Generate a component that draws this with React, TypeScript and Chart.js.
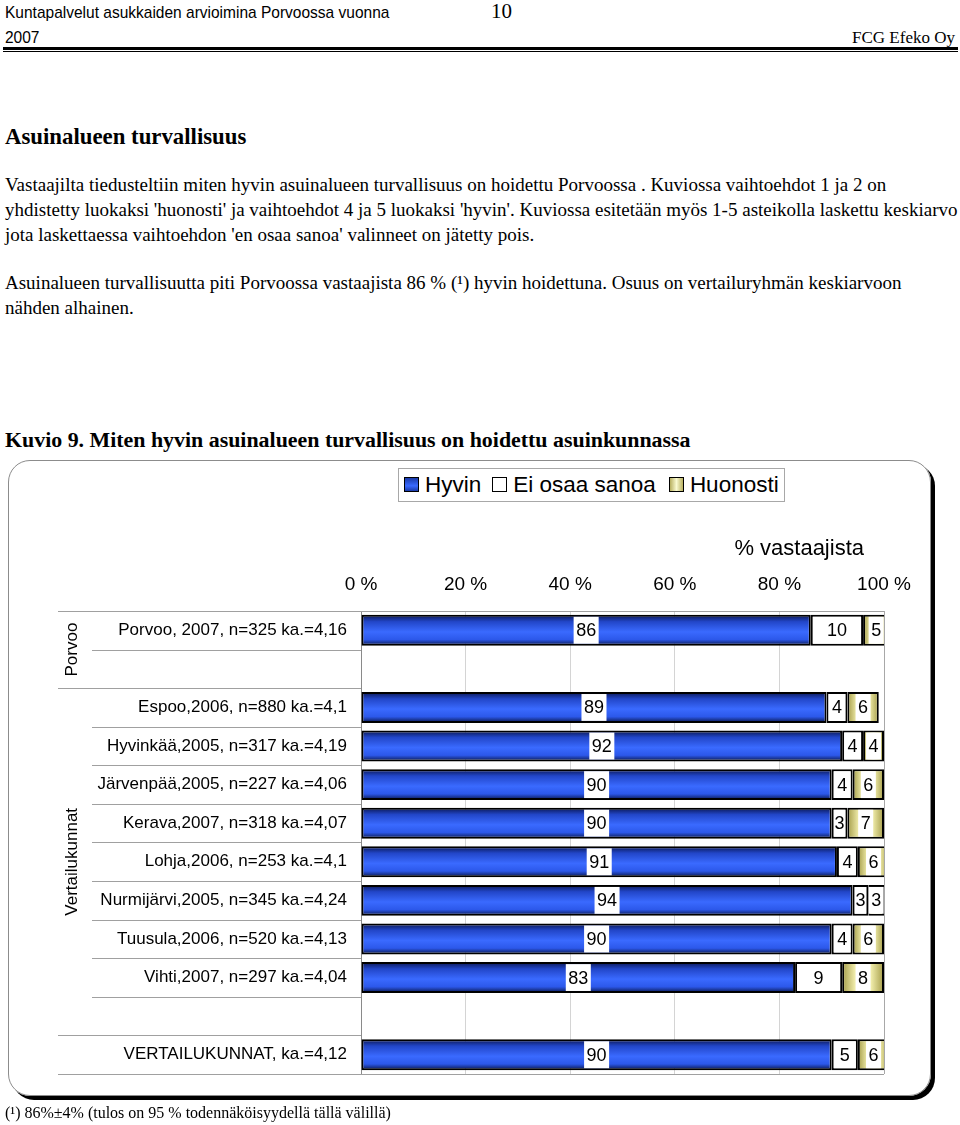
import React, { useEffect, useRef } from "react";
import { Chart, registerables } from "chart.js";

Chart.register(...registerables);

// ---- data ----
const categories = [
  "Porvoo, 2007, n=325 ka.=4,16",
  "",
  "Espoo,2006, n=880 ka.=4,1",
  "Hyvinkää,2005, n=317 ka.=4,19",
  "Järvenpää,2005, n=227 ka.=4,06",
  "Kerava,2007, n=318 ka.=4,07",
  "Lohja,2006, n=253 ka.=4,1",
  "Nurmijärvi,2005, n=345 ka.=4,24",
  "Tuusula,2006, n=520 ka.=4,13",
  "Vihti,2007, n=297 ka.=4,04",
  "",
  "VERTAILUKUNNAT, ka.=4,12",
];
const hyvin = [86, null, 89, 92, 90, 90, 91, 94, 90, 83, null, 90];
const eiOsaa = [10, null, 4, 4, 4, 3, 4, 3, 4, 9, null, 5];
const huonosti = [5, null, 6, 4, 6, 7, 6, 3, 6, 8, null, 6];
const seriesNames = ["Hyvin", "Ei osaa sanoa", "Huonosti"];
const xTickValues = [0, 20, 40, 60, 80, 100];
const groupLabels = ["Porvoo", "Vertailukunnat"];
const groupFrom = [0, 2];
const groupTo = [1, 10];
const axisTitle = "% vastaajista";

const SANS = "'Liberation Sans', Arial, Helvetica, sans-serif";
const SERIF = "'Liberation Serif', 'Times New Roman', serif";
const BAR_PCT = 0.8;

function blueFill(c: any) {
  const chart = c.chart;
  const ys = chart.scales && chart.scales.y;
  if (!ys || !chart.chartArea || c.type !== "data") return "#3366ff";
  const step = ys.getPixelForValue(1) - ys.getPixelForValue(0);
  const yc = ys.getPixelForValue(c.dataIndex);
  const h = (step * BAR_PCT) / 2;
  const g = chart.ctx.createLinearGradient(0, yc - h, 0, yc + h);
  g.addColorStop(0, "#0a1650");
  g.addColorStop(0.22, "#2246c8");
  g.addColorStop(0.55, "#3a6aff");
  g.addColorStop(0.8, "#2c58ea");
  g.addColorStop(1, "#081444");
  return g;
}

function yellowFill(c: any) {
  const chart = c.chart;
  const xs = chart.scales && chart.scales.x;
  if (!xs || !chart.chartArea || c.type !== "data") return "#ecea9c";
  const i = c.dataIndex;
  const s = (hyvin[i] || 0) + (eiOsaa[i] || 0);
  const e = s + (huonosti[i] || 0);
  const x0 = xs.getPixelForValue(s);
  const x1 = xs.getPixelForValue(e);
  const g = chart.ctx.createLinearGradient(x0, 0, x1, 0);
  g.addColorStop(0, "#a49c48");
  g.addColorStop(0.3, "#eeeaa8");
  g.addColorStop(0.5, "#fdfde6");
  g.addColorStop(0.7, "#eeeaa8");
  g.addColorStop(1, "#a49c48");
  return g;
}

const sepPlugin = {
  id: "separators",
  afterDraw(chart: any) {
    const { ctx, chartArea } = chart;
    const ys = chart.scales.y;
    const step = ys.getPixelForValue(1) - ys.getPixelForValue(0);
    const n = categories.length;
    ctx.save();
    ctx.strokeStyle = "#a0a0a0";
    ctx.lineWidth = 1;
    for (let i = 0; i <= n; i++) {
      const yy = Math.round(ys.getPixelForValue(i) - step / 2) + 0.5;
      const edge =
        i === 0 || i === n || groupFrom.includes(i) || groupTo.some((t) => t + 1 === i);
      const x0 = edge ? 58 : 92;
      const x1 = i === 0 || i === n ? chartArea.right : chartArea.left;
      ctx.beginPath();
      ctx.moveTo(x0, yy);
      ctx.lineTo(x1, yy);
      ctx.stroke();
    }
    ctx.fillStyle = "#000";
    ctx.font = "17px " + SANS;
    ctx.textAlign = "center";
    ctx.textBaseline = "middle";
    groupLabels.forEach((lbl, gi) => {
      const yTop = ys.getPixelForValue(groupFrom[gi]) - step / 2;
      const yBot = ys.getPixelForValue(groupTo[gi]) + step / 2;
      ctx.save();
      ctx.translate(72, (yTop + yBot) / 2);
      ctx.rotate(-Math.PI / 2);
      ctx.fillText(lbl, 0, 0);
      ctx.restore();
    });
    ctx.restore();
  },
};

const labelPlugin = {
  id: "barLabels",
  afterDatasetsDraw(chart: any) {
    const { ctx } = chart;
    ctx.save();
    ctx.font = "18px " + SANS;
    ctx.textAlign = "center";
    ctx.textBaseline = "middle";
    chart.data.datasets.forEach((ds: any, di: number) => {
      const meta = chart.getDatasetMeta(di);
      meta.data.forEach((el: any, i: number) => {
        const v = ds.data[i];
        if (v == null) return;
        const { x, y, base, height } = el.getProps(["x", "y", "base", "height"], true);
        const cx = (x + base) / 2;
        const txt = String(v);
        const w = ctx.measureText(txt).width;
        if (di !== 1) {
          ctx.fillStyle = "#fff";
          ctx.fillRect(cx - w / 2 - 2.5, y - height / 2 + 2, w + 5, height - 4);
        }
        ctx.fillStyle = "#000";
        ctx.fillText(txt, cx, y + 1);
      });
    });
    ctx.restore();
  },
};

function ChartBox() {
  const ref = useRef<HTMLCanvasElement | null>(null);
  useEffect(() => {
    if (!ref.current) return;
    const common = {
      borderColor: "#000",
      borderWidth: 2,
      borderSkipped: false,
      barPercentage: BAR_PCT,
      categoryPercentage: 1,
      clip: { left: 5, top: 5, right: 0, bottom: 5 },
    };
    const chart = new Chart(ref.current, {
      type: "bar",
      data: {
        labels: categories,
        datasets: [
          { label: seriesNames[0], data: hyvin, backgroundColor: blueFill, ...common },
          { label: seriesNames[1], data: eiOsaa, backgroundColor: "#ffffff", ...common },
          { label: seriesNames[2], data: huonosti, backgroundColor: yellowFill, ...common },
        ] as any,
      },
      options: {
        indexAxis: "y",
        responsive: false,
        animation: false,
        events: [],
        layout: { padding: { left: 0, right: 76, top: 91, bottom: 36 } },
        plugins: { legend: { display: false }, tooltip: { enabled: false } },
        scales: {
          x: {
            position: "top",
            stacked: true,
            min: 0,
            max: 100,
            afterFit: (s: any) => {
              s.height = 60;
            },
            afterBuildTicks: (s: any) => {
              s.ticks = xTickValues.map((v) => ({ value: v }));
            },
            ticks: {
              padding: 15,
              color: "#000",
              font: { family: SANS, size: 19 },
              callback: (v: any) => v + " %",
            },
            grid: {
              drawTicks: false,
              color: (c: any) => (c.tick && c.tick.value === 100 ? "#a8a8a8" : "#d4d4d4"),
            },
            border: { display: false },
          },
          y: {
            stacked: true,
            afterFit: (s: any) => {
              s.width = 361;
            },
            ticks: {
              padding: 14,
              autoSkip: false,
              color: "#000",
              font: { family: SANS, size: 17 },
            },
            grid: { display: false, drawTicks: false },
            border: { display: true, color: "#8a8a8a", width: 1 },
          },
        },
      } as any,
      plugins: [sepPlugin, labelPlugin],
    });
    return () => chart.destroy();
  }, []);
  return (
    <canvas
      ref={ref}
      width={960}
      height={650}
      style={{ position: "absolute", left: 0, top: 460, width: 960, height: 650 }}
    />
  );
}

const abs = (o: any) => ({ position: "absolute" as const, whiteSpace: "nowrap" as const, margin: 0, ...o });

function LegendSwatch({ bg }: { bg: string }) {
  return (
    <span
      style={{
        display: "inline-block",
        width: 13,
        height: 13,
        border: "1.5px solid #000",
        background: bg,
        marginRight: 6,
        verticalAlign: "middle",
        position: "relative",
        top: -2,
      }}
    />
  );
}

export default function App() {
  const paraStyle = { fontFamily: SERIF, fontSize: 19, lineHeight: "25px", color: "#000" };
  const narrow = {
    fontFamily: SANS,
    fontSize: 17,
    lineHeight: "20px",
    transform: "scaleX(0.912)",
    transformOrigin: "0 0",
  };
  return (
    <div style={{ position: "absolute", left: 0, top: 0, width: 960, height: 1125, background: "#fff", overflow: "hidden" }}>
      <div style={abs({ left: 5, top: 3, ...narrow })}>Kuntapalvelut asukkaiden arvioimina Porvoossa vuonna</div>
      <div style={abs({ left: 491, top: 0, fontFamily: SERIF, fontSize: 21, lineHeight: "22px" })}>10</div>
      <div style={abs({ left: 5, top: 28, ...narrow })}>2007</div>
      <div style={abs({ right: 5, top: 28, fontFamily: SERIF, fontSize: 17, lineHeight: "20px" })}>FCG Efeko Oy</div>
      <div style={abs({ left: 3, top: 47, width: 955, height: 3, background: "#000" })} />
      <div style={abs({ left: 3, top: 51, width: 955, height: 1, background: "#000" })} />

      <div style={abs({ left: 5, top: 124, fontFamily: SERIF, fontSize: 22.8, fontWeight: "bold", lineHeight: "26px" })}>
        Asuinalueen turvallisuus
      </div>
      <div style={abs({ left: 5, top: 172, ...paraStyle })}>
        Vastaajilta tiedusteltiin miten hyvin asuinalueen turvallisuus on hoidettu Porvoossa . Kuviossa vaihtoehdot 1 ja 2 on
        <br />
        yhdistetty luokaksi 'huonosti' ja vaihtoehdot 4 ja 5 luokaksi 'hyvin'. Kuviossa esitetään myös 1-5 asteikolla laskettu keskiarvo
        <br />
        jota laskettaessa vaihtoehdon 'en osaa sanoa' valinneet on jätetty pois.
      </div>
      <div style={abs({ left: 5, top: 270, ...paraStyle })}>
        Asuinalueen turvallisuutta piti Porvoossa vastaajista 86 % (¹) hyvin hoidettuna. Osuus on vertailuryhmän keskiarvoon
        <br />
        nähden alhainen.
      </div>
      <div style={abs({ left: 5, top: 427, fontFamily: SERIF, fontSize: 21.9, fontWeight: "bold", lineHeight: "26px" })}>
        Kuvio 9. Miten hyvin asuinalueen turvallisuus on hoidettu asuinkunnassa
      </div>

      <div
        style={abs({
          left: 8,
          top: 460,
          width: 923,
          height: 636,
          boxSizing: "border-box",
          border: "1.5px solid #8c8c8c",
          borderRadius: 22,
          boxShadow: "4px 4px 0 #000",
        })}
      />
      <ChartBox />
      <div
        style={abs({
          left: 398,
          top: 468,
          width: 387,
          height: 34,
          boxSizing: "border-box",
          border: "1px solid #a8a8a8",
          fontFamily: SANS,
          fontSize: 22.5,
          lineHeight: "32px",
          paddingLeft: 5,
          background: "#fff",
        })}
      >
        <LegendSwatch bg="linear-gradient(#1a3aa8, #3a6aff 60%, #1a3aa8)" />
        <span style={{ marginRight: 11 }}>{seriesNames[0]}</span>
        <LegendSwatch bg="#fff" />
        <span style={{ marginRight: 13 }}>{seriesNames[1]}</span>
        <LegendSwatch bg="linear-gradient(90deg, #b8b060, #fafad0 50%, #b8b060)" />
        <span>{seriesNames[2]}</span>
      </div>
      <div style={abs({ right: 960 - 864, top: 535, fontFamily: SANS, fontSize: 22, lineHeight: "26px" })}>{axisTitle}</div>
      <div style={abs({ left: 5, top: 1103, fontFamily: SERIF, fontSize: 16, lineHeight: "20px" })}>
        (¹) 86%±4% (tulos on 95 % todennäköisyydellä tällä välillä)
      </div>
    </div>
  );
}
